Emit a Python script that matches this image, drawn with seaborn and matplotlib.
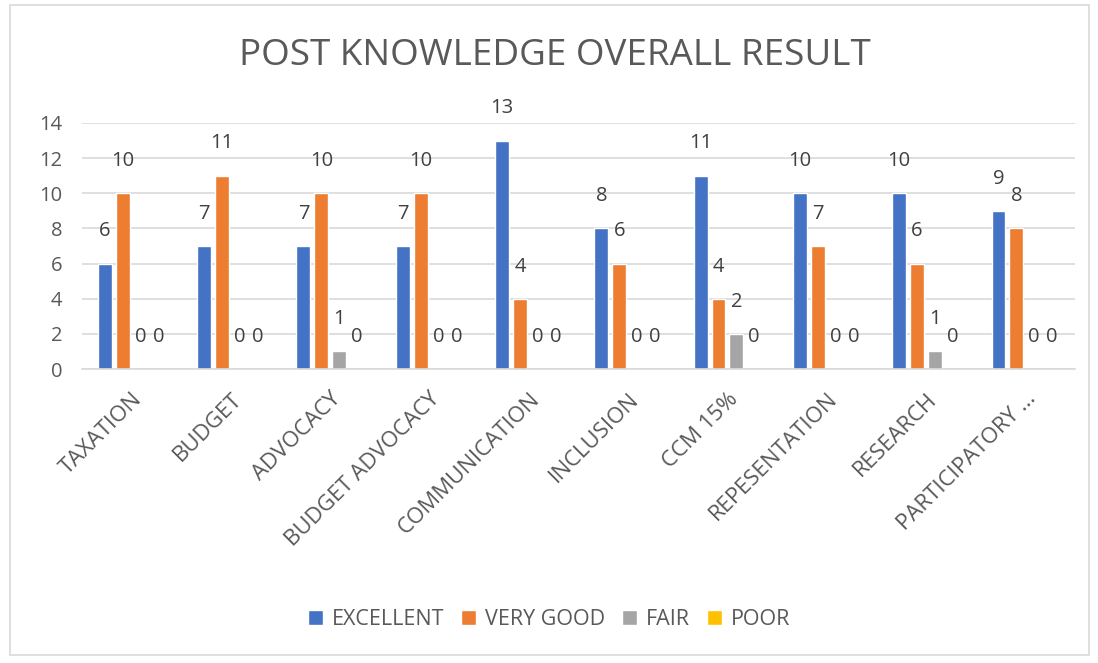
import matplotlib
matplotlib.use("Agg")
import matplotlib.pyplot as plt
import seaborn as sns
import pandas as pd
from matplotlib.patches import Rectangle

categories = ["TAXATION", "BUDGET", "ADVOCACY", "BUDGET ADVOCACY", "COMMUNICATION",
              "INCLUSION", "CCM 15%", "REPESENTATION", "RESEARCH", "PARTICIPATORY ..."]
excellent = [6, 7, 7, 7, 13, 8, 11, 10, 10, 9]
very_good = [10, 11, 10, 10, 4, 6, 4, 7, 6, 8]
fair = [0, 0, 1, 0, 0, 0, 2, 0, 1, 0]
poor = [0, 0, 0, 0, 0, 0, 0, 0, 0, 0]
series_names = ["EXCELLENT", "VERY GOOD", "FAIR", "POOR"]
colors = ["#4472C4", "#ED7D31", "#A5A5A5", "#FFC000"]
title = "POST KNOWLEDGE OVERALL RESULT"

rows = []
for name, vals in zip(series_names, [excellent, very_good, fair, poor]):
    for c, v in zip(categories, vals):
        rows.append({"category": c, "series": name, "value": v})
df = pd.DataFrame(rows)

sns.set_theme(style="white")
plt.rcParams['font.family'] = ['Open Sans', 'DejaVu Sans']

fig = plt.figure(figsize=(10.98, 6.63), dpi=100)
fig.patches.append(Rectangle((0.009, 0.012), 0.983, 0.98, transform=fig.transFigure,
                             fill=False, edgecolor="#D9D9D9", linewidth=1.2))
ax = fig.add_axes([0.0747, 0.4434, 0.9043, 0.3711])

sns.barplot(data=df, x="category", y="value", hue="series", palette=colors,
            width=0.72, gap=0.22, ax=ax, order=categories, hue_order=series_names,
            saturation=1, legend=True)

for cont in ax.containers:
    ax.bar_label(cont, padding=16, fontsize=14.5, color="#404040")

ax.set_ylim(0, 14)
ax.set_yticks(range(0, 15, 2))
ax.set_xlim(-0.5, len(categories) - 0.5)
ax.yaxis.grid(True, color="#D9D9D9", linewidth=1.2)
ax.set_axisbelow(True)
for s in ["top", "right", "left"]:
    ax.spines[s].set_visible(False)
ax.spines["bottom"].set_color("#D9D9D9")
ax.spines["bottom"].set_linewidth(1.2)
ax.set_xlabel("")
ax.set_ylabel("")
ax.tick_params(axis="y", labelsize=14.5, labelcolor="#595959", length=0, pad=14)
ax.tick_params(axis="x", labelsize=16, labelcolor="#595959", length=0, pad=14)
plt.setp(ax.get_xticklabels(), rotation=45, ha="right", rotation_mode="anchor")

handles, labels = ax.get_legend_handles_labels()
ax.legend_.remove()
fig.legend(handles, labels, loc="center", bbox_to_anchor=(0.5, 0.065), ncol=4,
           frameon=False, fontsize=15.5, handlelength=0.7, handleheight=0.7,
           handletextpad=0.4, columnspacing=0.8, labelcolor="#595959")

fig.text(0.505, 0.915, title, ha="center", va="center", fontsize=26.5, color="#595959")

fig.savefig("out.png", dpi=100)
